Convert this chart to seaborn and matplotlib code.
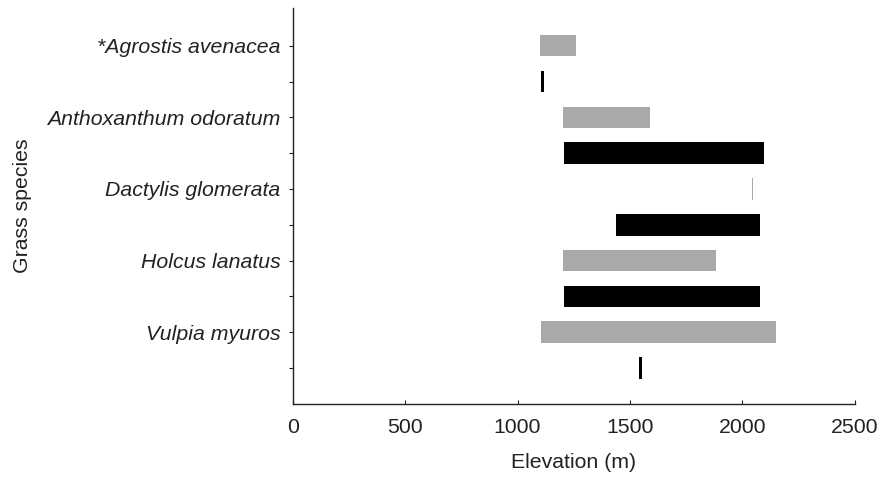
import matplotlib
matplotlib.use("Agg")
import matplotlib.pyplot as plt
import seaborn as sns
import numpy as np
import pandas as pd

species = ["*Agrostis avenacea", "Anthoxanthum odoratum", "Dactylis glomerata",
           "Holcus lanatus", "Vulpia myuros"]
# gray bars (upper row of each species)
gray_start = [1100, 1200, 2041, 1200, 1105]
gray_end = [1260, 1590, 2048, 1885, 2150]
# black bars (lower row of each species)
black_start = [1105, 1205, 1440, 1205, 1540]
black_end = [1118, 2095, 2080, 2080, 1552]
x_ticks = [0, 500, 1000, 1500, 2000, 2500]

sns.set_style("ticks")
plt.rcParams['font.family'] = ['Liberation Sans', 'DejaVu Sans']

rows = []
for i, sp in enumerate(species):
    rows.append(dict(row=2 * i, start=gray_start[i], end=gray_end[i], kind="gray"))
    rows.append(dict(row=2 * i + 1, start=black_start[i], end=black_end[i], kind="black"))
df = pd.DataFrame(rows)
colors = {"gray": "#a9a9a9", "black": "#000000"}

fig = plt.figure(figsize=(8.82, 4.79), dpi=100)
ax = fig.add_axes([0.332, 0.157, 0.637, 0.826])

for _, r in df.iterrows():
    ax.barh(r["row"], r["end"] - r["start"], left=r["start"],
            height=0.6, color=colors[r["kind"]], edgecolor="none")

fs = 15.3
ax.set_xlim(0, 2500)
ax.set_ylim(10.0, -1.05)
ax.set_xticks(x_ticks)
ax.set_xticklabels([str(t) for t in x_ticks], fontsize=fs)
ax.set_yticks(range(10))
ax.set_yticklabels([species[i // 2] if i % 2 == 0 else "" for i in range(10)],
                   fontsize=fs, style="italic")
ax.tick_params(axis="y", length=3, width=0.8, pad=6, colors="#222222")
ax.tick_params(axis="x", length=3, width=0.8, pad=10.5, direction="in", colors="#222222")
ax.set_xlabel("Elevation (m)", fontsize=fs, labelpad=11, color="#222222")
ax.set_ylabel("Grass species", fontsize=fs, color="#222222")
sns.despine(ax=ax)
for s in ["left", "bottom"]:
    ax.spines[s].set_linewidth(1.0)
    ax.spines[s].set_color("#222222")
ax.yaxis.set_label_coords(-0.465, 0.5)

fig.savefig("out.png", dpi=100)
